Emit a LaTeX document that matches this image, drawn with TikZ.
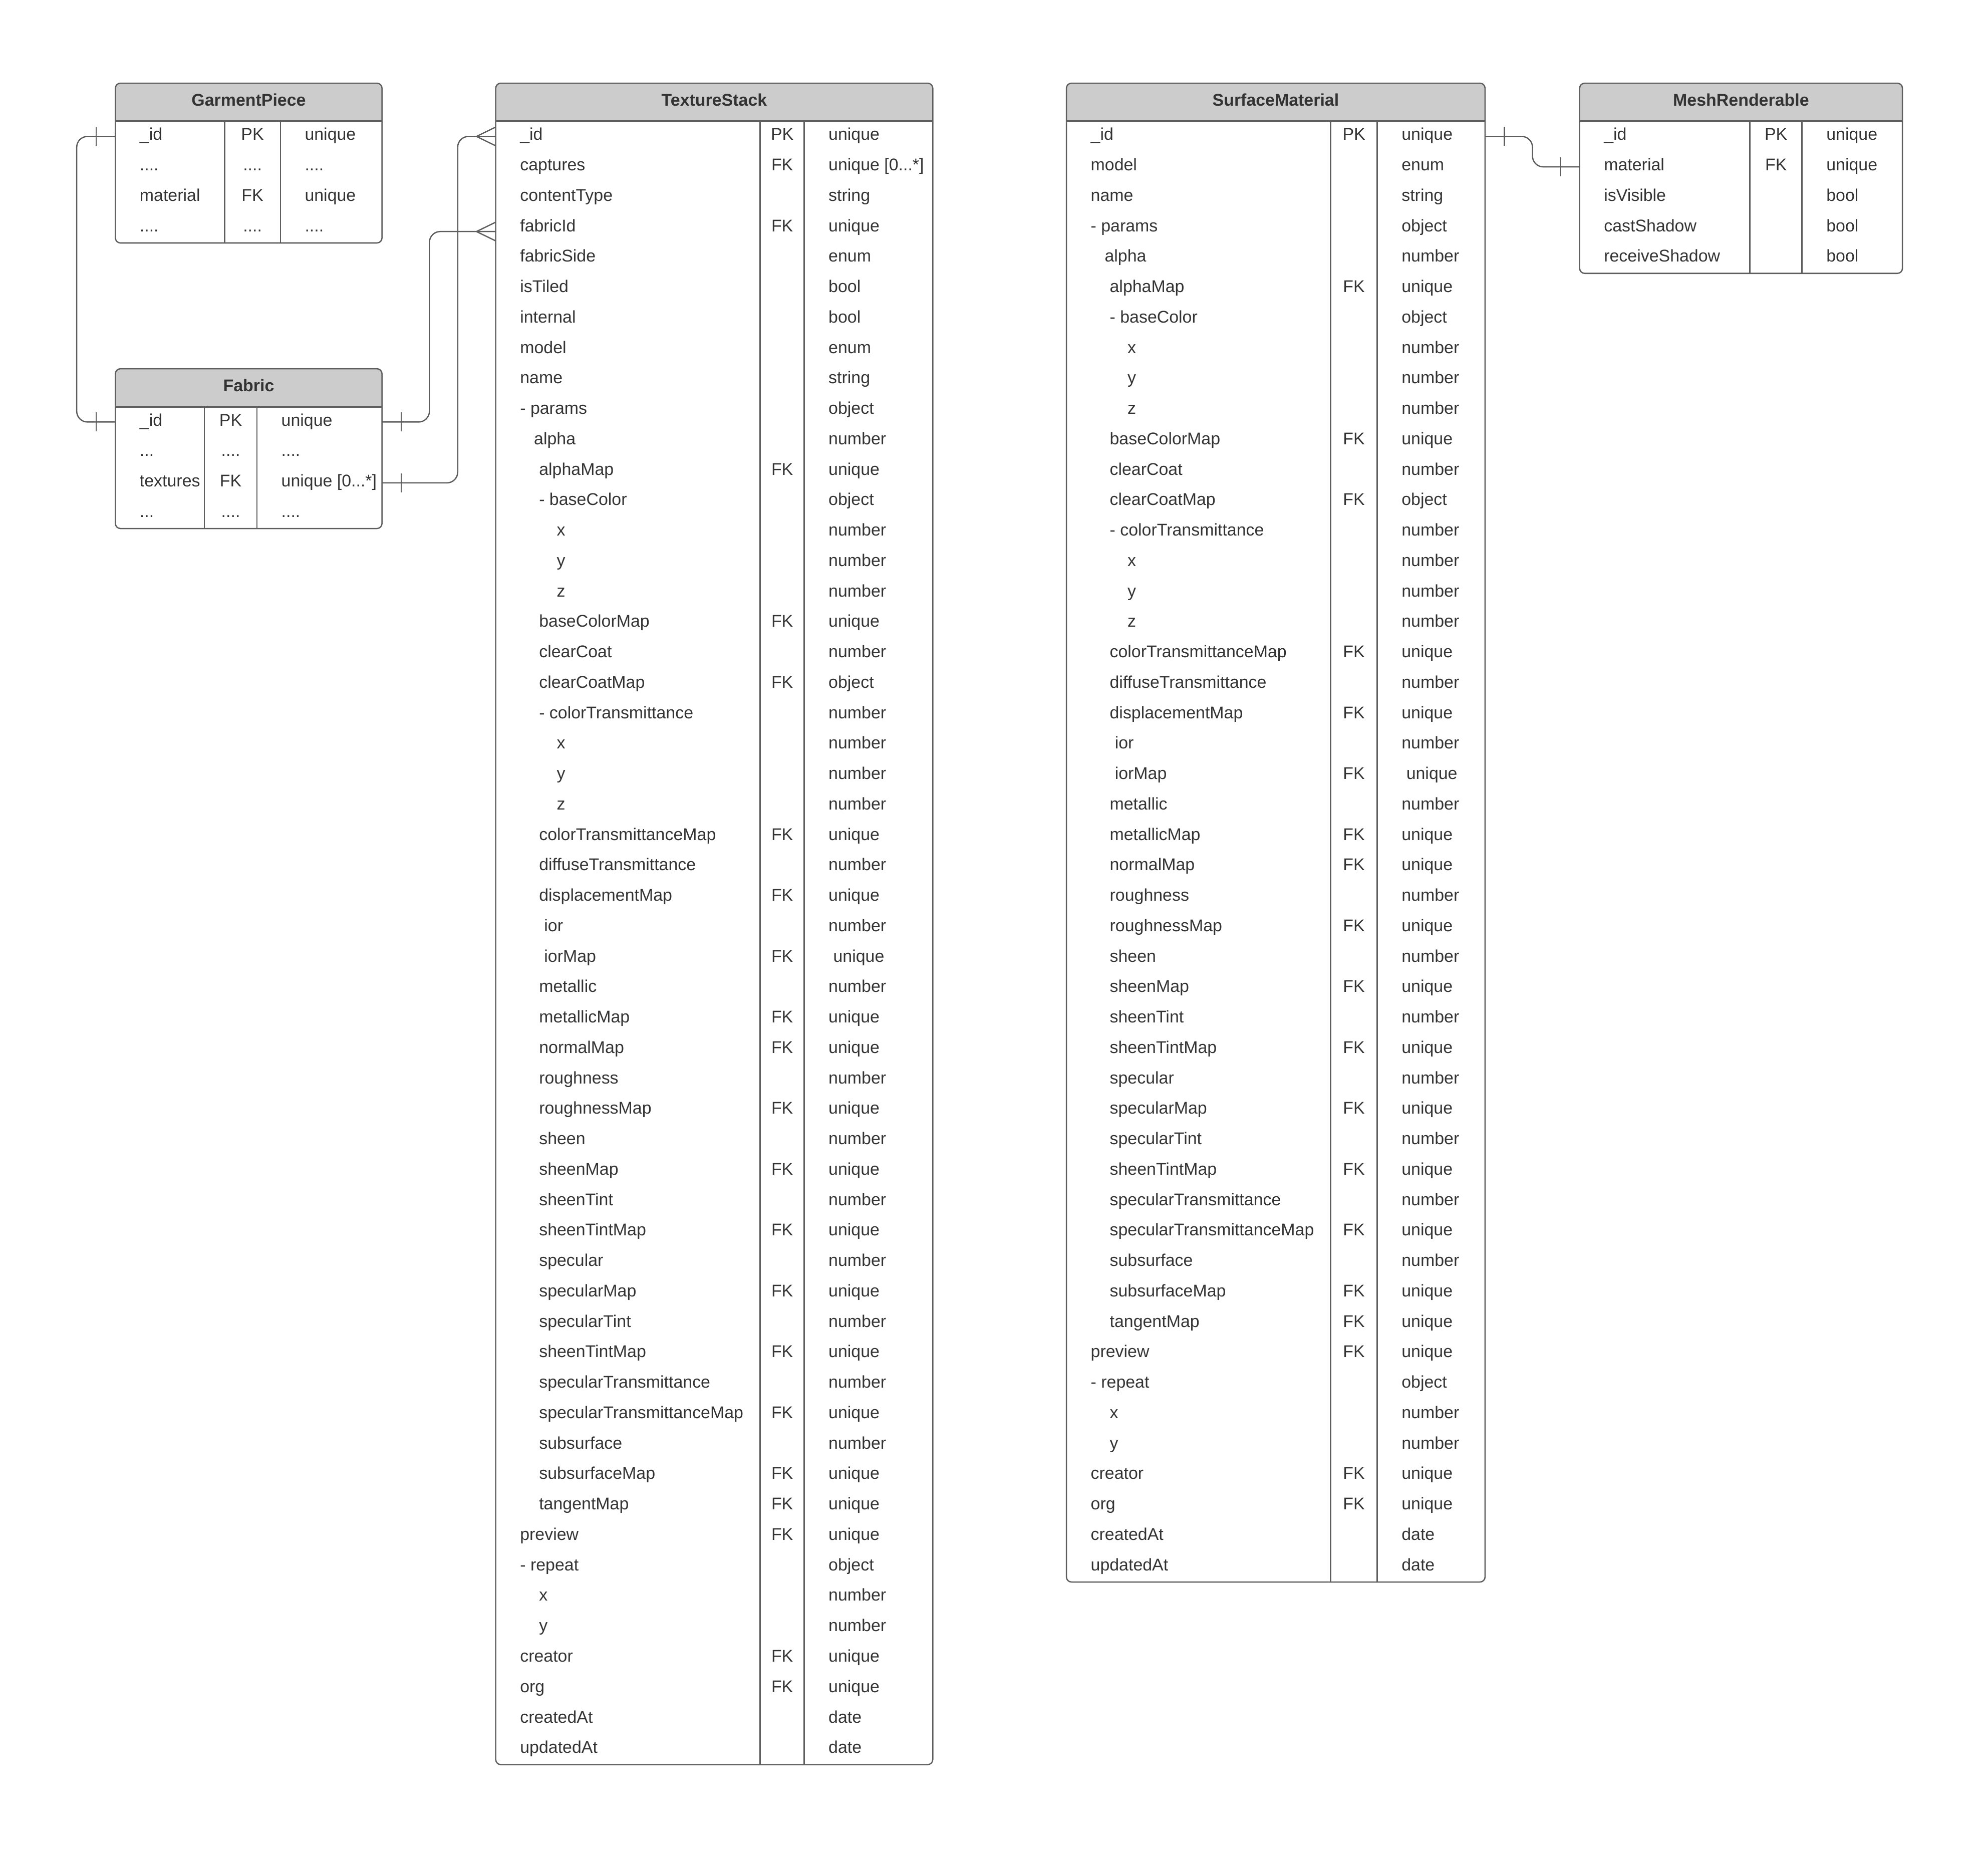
\documentclass[tikz,border=0pt]{standalone}
\usepackage{fontspec}
\setmainfont{Liberation Sans}
\definecolor{edgegray}{HTML}{5E5E5E}
\definecolor{headgray}{HTML}{CCCCCC}
\definecolor{inkgray}{HTML}{333333}
\newcommand{\fourdots}{....}
\newcommand{\threedots}{...}
\newcommand{\entitybox}[8]{%
  \pgfmathsetmacro{\yhead}{#5+30}%
  \pgfmathsetmacro{\ybot}{#5+30+24*#8}%
  \begin{scope}
    \clip[rounded corners=4pt] (#3,#5) rectangle (#4,\ybot);
    \fill[headgray] (#3,#5) rectangle (#4,\yhead);
  \end{scope}
  \draw[frame, rounded corners=4pt] (#3,#5) rectangle (#4,\ybot);
  \draw[frame, line width=1.4pt] (#3,\yhead) -- (#4,\yhead);
  \draw[frame] (#6,\yhead) -- (#6,\ybot) (#7,\yhead) -- (#7,\ybot);
  \node[headtext] (#1) at ({(#3+#4)/2},{#5+18}) {#2};
}
\newcommand{\entityrows}[7]{%
  \foreach \fld/\ind/\keytag/\typ [count=\rowno] in {#7} {
    \pgfmathsetmacro{\rowy}{#6+18+24*\rowno}
    \node[slot, minimum width={#3-#2}] (#1\rowno) at ({(#2+#3)/2},\rowy) {};
    \node[field, anchor=base west] at ({#2+19+\ind},{\rowy+3}) {\fld};
    \node[field, anchor=base] at ({(#4+#5)/2},{\rowy+3}) {\keytag};
    \node[field, anchor=base west] at ({#5+19},{\rowy+3}) {\typ};
  }%
}

\begin{document}
\begin{tikzpicture}[x=1pt, y=-1pt,
    frame/.style={draw=edgegray, line width=1pt},
    link/.style={draw=edgegray, line width=1pt, rounded corners=8.5pt},
    headtext/.style={font=\fontsize{13.4}{16}\selectfont\bfseries, text=inkgray, inner sep=0pt, anchor=base},
    field/.style={font=\fontsize{13.4}{16}\selectfont, text=inkgray, inner sep=0pt},
    slot/.style={inner sep=0pt, minimum height=24pt},
    onebar/.pic={\draw[frame] (0,-7.5) -- (0,7.5);},
    crowfoot/.pic={\draw[frame] (0,-7.3) -- (-15,0) -- (0,7.3);}]
    \useasboundingbox (0,0) rectangle (1568,1458.6);

    \entitybox{gp}{GarmentPiece}{91}{301.3}{65.6}{177.1}{221.2}{4}
    \entityrows{gp}{91}{301.3}{177.1}{221.2}{65.6}{%
      \_id/0/PK/unique,\fourdots/0/\fourdots/\fourdots,%
      material/0/FK/unique,\fourdots/0/\fourdots/\fourdots}

    \entitybox{fb}{Fabric}{91}{301.3}{290.8}{161.2}{202.7}{4}
    \entityrows{fb}{91}{301.3}{161.2}{202.7}{290.8}{%
      \_id/0/PK/unique,\threedots/0/\fourdots/\fourdots,%
      textures/0/FK/unique [0\threedots*],\threedots/0/\fourdots/\fourdots}

    \entitybox{ts}{TextureStack}{391}{735.7}{65.6}{599.6}{634.3}{54}
    \entityrows{ts}{391}{735.7}{599.6}{634.3}{65.6}{%
      \_id/0/PK/unique,captures/0/FK/unique [0\threedots*],contentType/0//string,%
      fabricId/0/FK/unique,fabricSide/0//enum,isTiled/0//bool,internal/0//bool,%
      model/0//enum,name/0//string,- params/0//object,alpha/11//number,%
      alphaMap/15/FK/unique,- baseColor/15//object,x/29//number,y/29//number,%
      z/29//number,baseColorMap/15/FK/unique,clearCoat/15//number,%
      clearCoatMap/15/FK/object,- colorTransmittance/15//number,x/29//number,%
      y/29//number,z/29//number,colorTransmittanceMap/15/FK/unique,%
      diffuseTransmittance/15//number,displacementMap/15/FK/unique,ior/19//number,%
      iorMap/19/FK/\ unique,metallic/15//number,metallicMap/15/FK/unique,%
      normalMap/15/FK/unique,roughness/15//number,roughnessMap/15/FK/unique,%
      sheen/15//number,sheenMap/15/FK/unique,sheenTint/15//number,%
      sheenTintMap/15/FK/unique,specular/15//number,specularMap/15/FK/unique,%
      specularTint/15//number,sheenTintMap/15/FK/unique,%
      specularTransmittance/15//number,specularTransmittanceMap/15/FK/unique,%
      subsurface/15//number,subsurfaceMap/15/FK/unique,tangentMap/15/FK/unique,%
      preview/0/FK/unique,- repeat/0//object,x/15//number,y/15//number,%
      creator/0/FK/unique,org/0/FK/unique,createdAt/0//date,updatedAt/0//date}

    \entitybox{sm}{SurfaceMaterial}{841.1}{1171.3}{65.6}{1049.5}{1086.3}{48}
    \entityrows{sm}{841.1}{1171.3}{1049.5}{1086.3}{65.6}{%
      \_id/0/PK/unique,model/0//enum,name/0//string,- params/0//object,%
      alpha/11//number,alphaMap/15/FK/unique,- baseColor/15//object,%
      x/29//number,y/29//number,z/29//number,baseColorMap/15/FK/unique,%
      clearCoat/15//number,clearCoatMap/15/FK/object,%
      - colorTransmittance/15//number,x/29//number,y/29//number,z/29//number,%
      colorTransmittanceMap/15/FK/unique,diffuseTransmittance/15//number,%
      displacementMap/15/FK/unique,ior/19//number,iorMap/19/FK/\ unique,%
      metallic/15//number,metallicMap/15/FK/unique,normalMap/15/FK/unique,%
      roughness/15//number,roughnessMap/15/FK/unique,sheen/15//number,%
      sheenMap/15/FK/unique,sheenTint/15//number,sheenTintMap/15/FK/unique,%
      specular/15//number,specularMap/15/FK/unique,specularTint/15//number,%
      sheenTintMap/15/FK/unique,specularTransmittance/15//number,%
      specularTransmittanceMap/15/FK/unique,subsurface/15//number,%
      subsurfaceMap/15/FK/unique,tangentMap/15/FK/unique,preview/0/FK/unique,%
      - repeat/0//object,x/15//number,y/15//number,creator/0/FK/unique,%
      org/0/FK/unique,createdAt/0//date,updatedAt/0//date}

    \entitybox{mr}{MeshRenderable}{1245.9}{1500.5}{65.6}{1380.2}{1421.3}{5}
    \entityrows{mr}{1245.9}{1500.5}{1380.2}{1421.3}{65.6}{%
      \_id/0/PK/unique,material/0/FK/unique,isVisible/0//bool,%
      castShadow/0//bool,receiveShadow/0//bool}

    \draw[link] (gp1.west) -- ++(-30.3,0) |- (fb1.west);
    \pic at ([xshift=-15pt]gp1.west) {onebar};
    \pic at ([xshift=-15pt]fb1.west) {onebar};

    \draw[link] (fb1.east) -- ++(37.2,0) |- ([yshift=-3pt]ts4.west);
    \pic at ([xshift=15pt]fb1.east) {onebar};
    \pic at ([yshift=-3pt]ts4.west) {crowfoot};

    \draw[link] (fb3.east) -- ++(59.5,0) |- (ts1.west);
    \pic at ([xshift=15pt]fb3.east) {onebar};
    \pic at (ts1.west) {crowfoot};

    \draw[link] (sm1.east) -- ++(37.2,0) |- (mr2.west);
    \pic at ([xshift=15pt]sm1.east) {onebar};
    \pic at ([xshift=-15pt]mr2.west) {onebar};
\end{tikzpicture}
\end{document}
